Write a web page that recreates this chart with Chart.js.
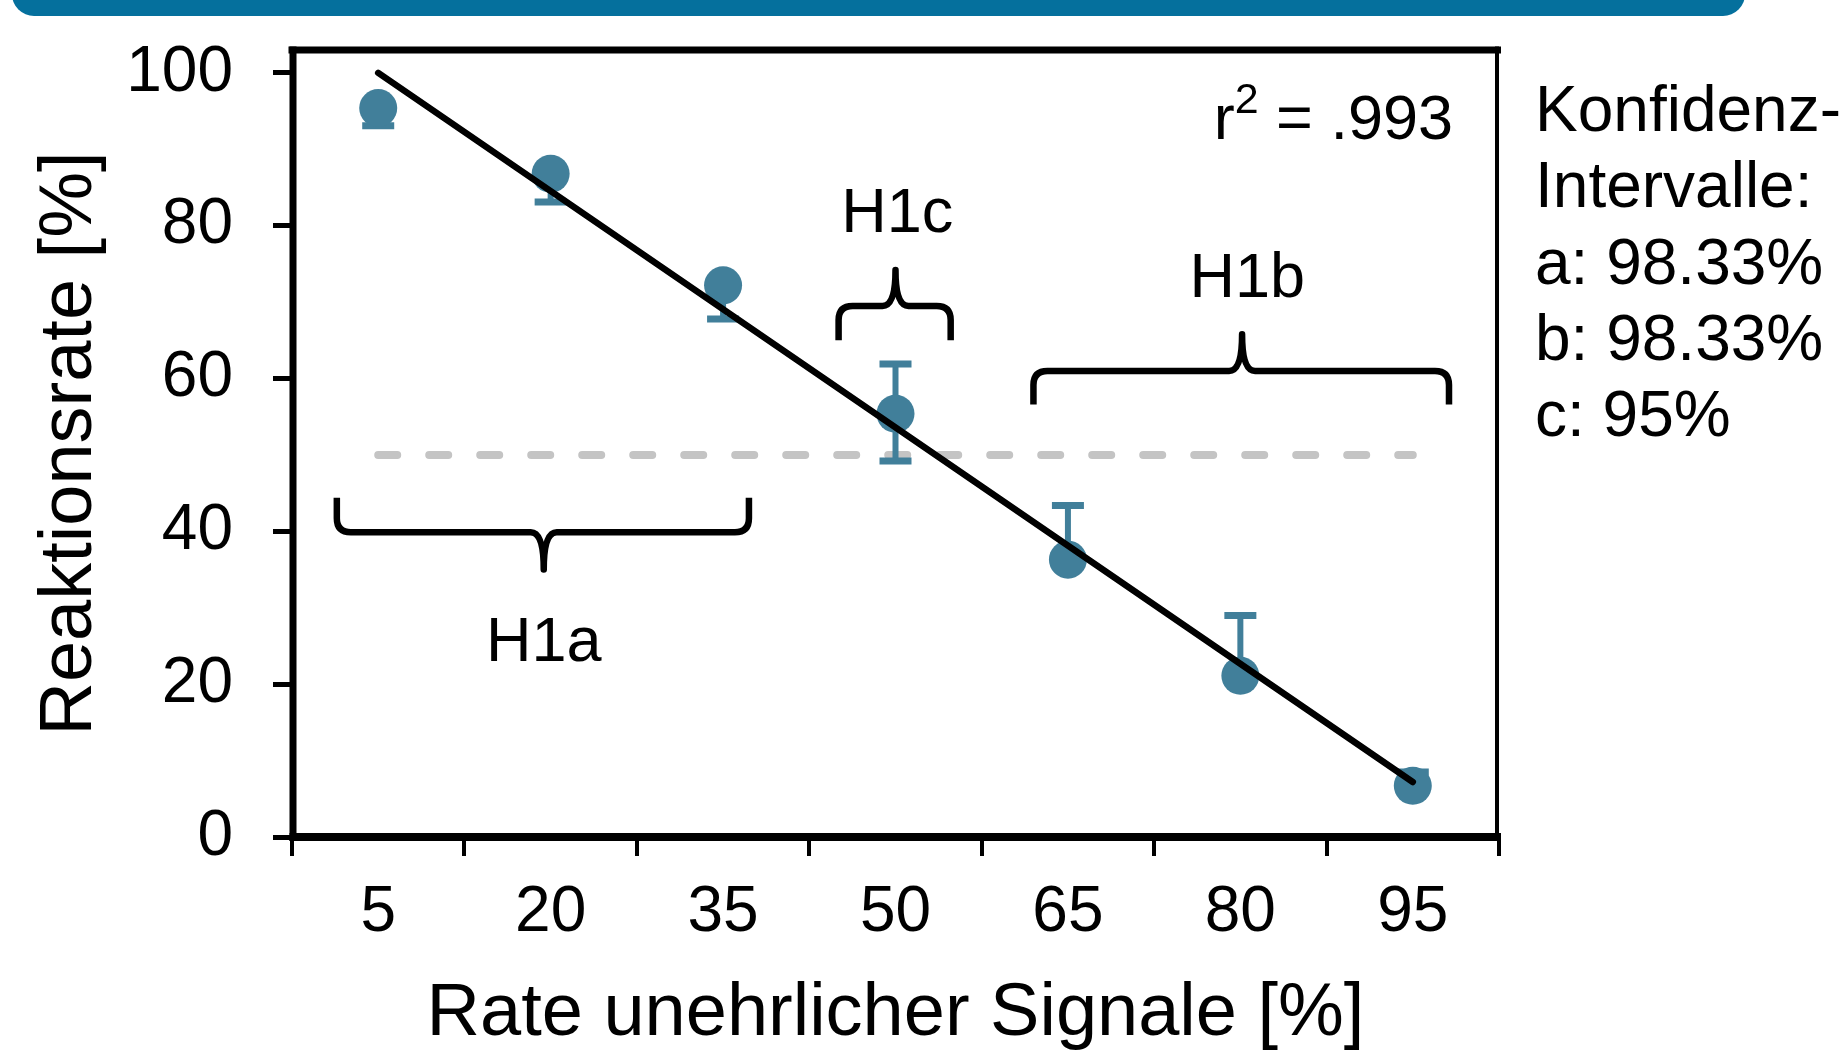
<!DOCTYPE html>
<html><head><meta charset="utf-8">
<script src="https://cdn.jsdelivr.net/npm/chart.js@4/dist/chart.umd.min.js"></script>
<style>
html,body{margin:0;padding:0;background:#fff;overflow:hidden;}
#wrap{position:relative;width:1846px;height:1052px;}
#banner{position:absolute;left:12px;top:-40px;width:1733px;height:56px;background:#05709d;border-radius:0 0 22px 22px;z-index:2;}
canvas{position:absolute;left:0;top:0;}
</style></head><body>
<div id="wrap"><div id="banner"></div><canvas id="c" width="1846" height="1052"></canvas></div>
<script>
// ---- data ----
const categories = ['5', '20', '35', '50', '65', '80', '95'];
const reactionRate = [95.4, 86.8, 72.2, 55.4, 36.3, 21.1, 6.7];
const ciLower = [93.1, 83.1, 67.8, 49.2, null, null, null];
const ciUpper = [null, null, null, 61.9, 43.4, 29.0, 8.5];
const fitLine = [100.0, 7.2];          // regression line at 5 % and 95 %
const chanceLevel = [50, 50];
const yTicks = [0, 20, 40, 60, 80, 100];
const rSquared = '.993';
const ciNotes = ['Konfidenz-', 'Intervalle:', 'a: 98.33%', 'b: 98.33%', 'c: 95%'];
const hypothesisLabels = ['H1a', 'H1c', 'H1b'];

// ---- annotation layout (x in category index units, y in axis units) ----
const braceLayout = [
  {x0: -0.24, x1: 2.15, xc: 0.96, yEnd: 44.4, yFlat: 39.9, yTip: 35.0, lx: 0.96, ly: 25.3},
  {x0: 2.67, x1: 3.32, xc: 3.0, yEnd: 65.0, yFlat: 69.5, yTip: 74.2, lx: 3.01, ly: 81.4},
  {x0: 3.80, x1: 6.21, xc: 5.01, yEnd: 56.6, yFlat: 61.0, yTip: 65.8, lx: 5.04, ly: 73.0}
];

const FONT = '"Liberation Sans", Arial, Helvetica, sans-serif';
const TEAL = '#417f9a';

const errorBarPlugin = {
  id: 'errorBars',
  beforeDatasetDraw(chart, args) {
    if (args.index !== 1) return;
    const {ctx, scales: {x, y}} = chart;
    ctx.save();
    ctx.strokeStyle = TEAL;
    ctx.lineCap = 'butt';
    const capHalf = 16;
    reactionRate.forEach((v, i) => {
      const px = x.getPixelForValue(i);
      const py = y.getPixelForValue(v);
      [ciLower[i], ciUpper[i]].forEach(b => {
        if (b === null || b === undefined) return;
        const pb = y.getPixelForValue(b);
        ctx.lineWidth = 6;
        ctx.beginPath(); ctx.moveTo(px, py); ctx.lineTo(px, pb); ctx.stroke();
        ctx.lineWidth = 7;
        ctx.beginPath(); ctx.moveTo(px - capHalf, pb); ctx.lineTo(px + capHalf, pb); ctx.stroke();
      });
    });
    ctx.restore();
  }
};

const annotationPlugin = {
  id: 'annotations',
  afterDatasetsDraw(chart) {
    const {ctx, scales: {x, y}, chartArea} = chart;
    ctx.save();
    ctx.strokeStyle = '#000';
    ctx.lineWidth = 6.5;
    ctx.lineJoin = 'round';
    ctx.lineCap = 'butt';
    braceLayout.forEach((b, k) => {
      const x0 = x.getPixelForValue(b.x0), x1 = x.getPixelForValue(b.x1), xc = x.getPixelForValue(b.xc);
      const yE = y.getPixelForValue(b.yEnd), yF = y.getPixelForValue(b.yFlat), yT = y.getPixelForValue(b.yTip);
      const dir = Math.sign(yF - yE);
      const r = 14, rt = 13;
      ctx.beginPath();
      ctx.moveTo(x0, yE);
      ctx.lineTo(x0, yF - dir * r);
      ctx.quadraticCurveTo(x0, yF, x0 + r, yF);
      ctx.lineTo(xc - rt, yF);
      ctx.quadraticCurveTo(xc, yF, xc, yT);
      ctx.quadraticCurveTo(xc, yF, xc + rt, yF);
      ctx.lineTo(x1 - r, yF);
      ctx.quadraticCurveTo(x1, yF, x1, yF - dir * r);
      ctx.lineTo(x1, yE);
      ctx.stroke();
      ctx.fillStyle = '#000';
      ctx.font = '63px ' + FONT;
      ctx.textAlign = 'center';
      ctx.textBaseline = 'middle';
      ctx.fillText(hypothesisLabels[k], x.getPixelForValue(b.lx), y.getPixelForValue(b.ly));
    });
    // r^2
    ctx.fillStyle = '#000';
    ctx.textBaseline = 'alphabetic';
    ctx.textAlign = 'left';
    const big = '63px ' + FONT, small = '43px ' + FONT;
    const rest = ' = ' + rSquared;
    ctx.font = big; const wr = ctx.measureText('r').width; const wrest = ctx.measureText(rest).width;
    ctx.font = small; const w2 = ctx.measureText('2').width;
    const rightX = chartArea.right - 46;
    const base = y.getPixelForValue(91.3);
    let sx = rightX - (wr + w2 + wrest);
    ctx.font = big; ctx.fillText('r', sx, base); sx += wr;
    ctx.font = small; ctx.fillText('2', sx, base - 26); sx += w2;
    ctx.font = big; ctx.fillText(rest, sx, base);
    // CI notes at right
    ctx.font = '64px ' + FONT;
    ciNotes.forEach((t, i) => {
      ctx.fillText(t, chartArea.right + 36, chartArea.top + 81 + i * 76.3);
    });
    ctx.restore();
  }
};

const framePlugin = {
  id: 'frame',
  afterDraw(chart) {
    const {ctx, chartArea: a} = chart;
    ctx.save();
    ctx.strokeStyle = '#000';
    ctx.lineCap = 'butt';
    const line = (w, x1, y1, x2, y2) => { ctx.lineWidth = w; ctx.beginPath(); ctx.moveTo(x1, y1); ctx.lineTo(x2, y2); ctx.stroke(); };
    line(7, a.left - 3.5, a.top, a.right + 2, a.top);
    line(4, a.right - 2, a.top - 3.5, a.right - 2, a.bottom);
    line(7, a.left + 1, a.top - 3.5, a.left + 1, a.bottom + 4);
    line(8, a.left - 2.5, a.bottom, a.right + 2, a.bottom);
    ctx.restore();
  }
};

new Chart(document.getElementById('c').getContext('2d'), {
  type: 'line',
  data: {
    labels: categories,
    datasets: [
      {label: 'Regression', data: [{x: categories[0], y: fitLine[0]}, {x: categories[categories.length - 1], y: fitLine[1]}],
       borderColor: '#000', borderWidth: 6.5, pointRadius: 0, order: 0, borderCapStyle: 'round'},
      {label: 'Reaktionsrate', data: reactionRate, showLine: false, pointRadius: 19, pointHoverRadius: 19,
       pointBackgroundColor: TEAL, pointBorderWidth: 0, borderColor: TEAL, backgroundColor: TEAL, order: 1},
      {label: 'Zufall', data: [{x: categories[0], y: chanceLevel[0]}, {x: categories[categories.length - 1], y: chanceLevel[1]}],
       borderColor: '#c4c4c4', borderWidth: 8, borderDash: [19, 32], borderCapStyle: 'round', pointRadius: 0, order: 2}
    ]
  },
  options: {
    responsive: false, animation: false, devicePixelRatio: 1, events: [],
    layout: {padding: {left: 0, top: 50, right: 347, bottom: 0}},
    plugins: {legend: {display: false}, tooltip: {enabled: false}},
    scales: {
      x: {
        type: 'category', offset: true,
        grid: {offset: true, drawOnChartArea: false, drawTicks: true, tickLength: 19, tickWidth: 4, tickColor: '#000', color: '#000', lineWidth: 4},
        border: {display: false},
        ticks: {font: {family: FONT, size: 64}, color: '#000', padding: 19, maxRotation: 0, autoSkip: false},
        title: {display: true, text: 'Rate unehrlicher Signale [%]', font: {family: FONT, size: 74, lineHeight: 1.0}, color: '#000', padding: {top: 0, bottom: 0}},
        afterFit(s) { s.height = 215; s.paddingLeft = 0; s.paddingRight = 0; }
      },
      y: {
        min: 0, max: 103,
        afterBuildTicks(s) { s.ticks = yTicks.map(v => ({value: v})); },
        grid: {drawOnChartArea: false, drawTicks: true, tickLength: 19, tickWidth: 5, tickColor: '#000', color: '#000', lineWidth: 5},
        border: {display: false},
        ticks: {font: {family: FONT, size: 64}, color: '#000', padding: 40},
        title: {display: true, text: 'Reaktionsrate [%]', font: {family: FONT, size: 74, lineHeight: 1.1}, color: '#000', padding: {top: 30, bottom: 0}},
        afterFit(s) { s.width = 292; s.paddingTop = 0; s.paddingBottom = 0; }
      }
    }
  },
  plugins: [errorBarPlugin, annotationPlugin, framePlugin]
});
</script>
</body></html>
